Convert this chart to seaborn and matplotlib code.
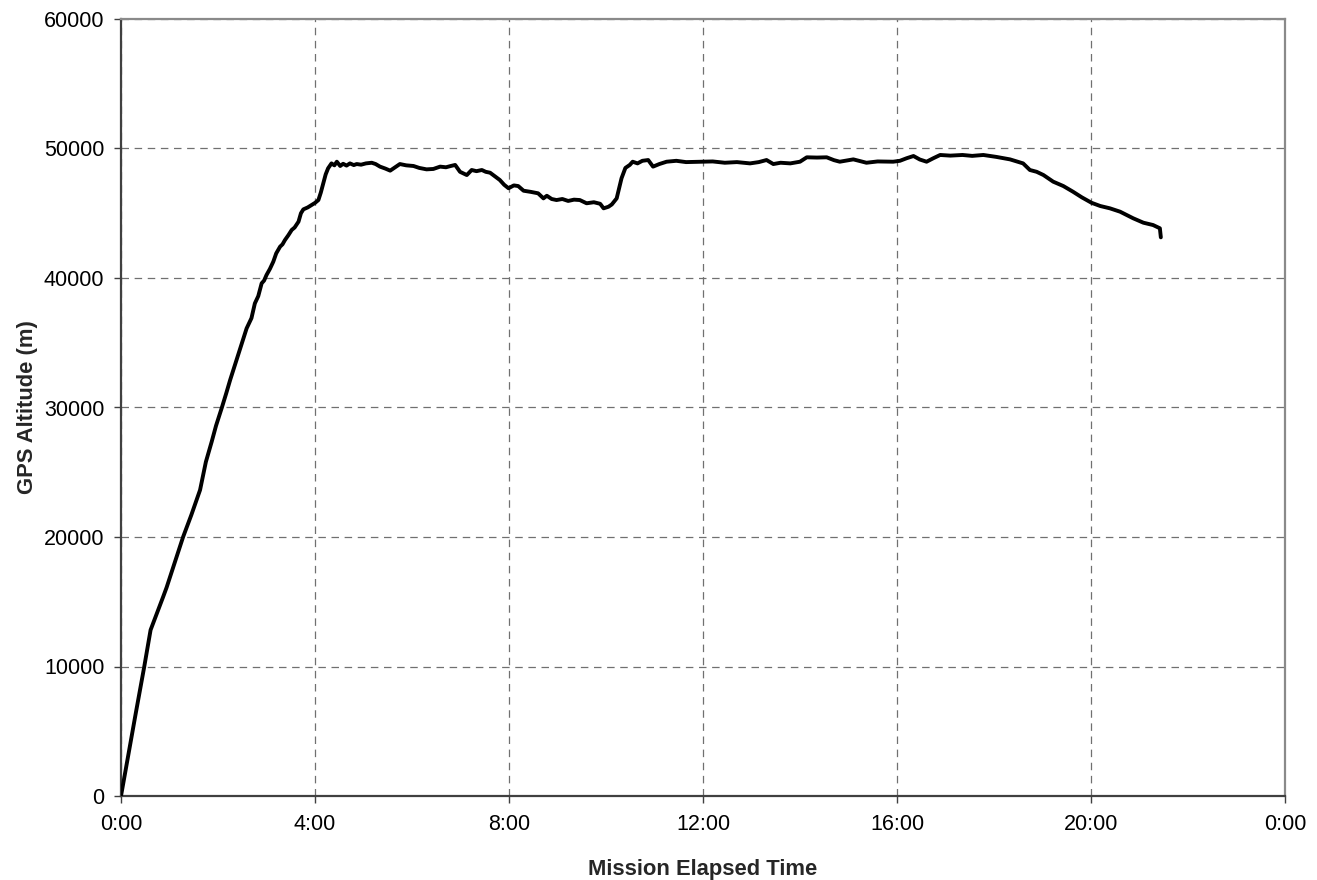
import matplotlib
matplotlib.use("Agg")
import matplotlib.pyplot as plt
import seaborn as sns
import pandas as pd

hours = [0.00, 0.30, 0.48, 0.61, 0.75, 0.87, 0.94, 1.08, 1.28, 1.45, 1.63, 1.75, 1.87, 1.96, 2.08, 2.17, 2.25,
         2.35, 2.45, 2.52, 2.59, 2.69, 2.76, 2.83, 2.90, 2.95, 3.00, 3.07, 3.14, 3.20, 3.28, 3.33, 3.38,
         3.45, 3.52, 3.58, 3.66, 3.71, 3.76, 3.85, 3.93, 4.00, 4.07, 4.12, 4.17, 4.22, 4.27, 4.34, 4.40,
         4.45, 4.52, 4.58, 4.65, 4.72, 4.80, 4.86, 4.95, 5.05, 5.17, 5.25, 5.34, 5.45, 5.55, 5.65, 5.75,
         5.88, 6.03, 6.15, 6.30, 6.44, 6.58, 6.70, 6.80, 6.89, 6.99, 7.13, 7.23, 7.33, 7.44, 7.52, 7.61,
         7.71, 7.81, 7.90, 7.99, 8.10, 8.19, 8.30, 8.45, 8.60, 8.71, 8.78, 8.88, 8.98, 9.10, 9.22, 9.34,
         9.46, 9.60, 9.75, 9.88, 9.95, 10.05, 10.12, 10.22, 10.32, 10.40, 10.49, 10.55, 10.65, 10.75,
         10.87, 10.97, 11.10, 11.25, 11.45, 11.65, 11.94, 12.20, 12.45, 12.70, 12.97, 13.15, 13.31,
         13.45, 13.60, 13.80, 14.00, 14.14, 14.35, 14.55, 14.70, 14.82, 15.10, 15.37, 15.60, 15.92,
         16.06, 16.20, 16.34, 16.47, 16.61, 16.75, 16.89, 17.10, 17.35, 17.55, 17.78, 18.05, 18.33,
         18.60, 18.74, 18.88, 19.02, 19.22, 19.43, 19.63, 19.81, 20.01, 20.19, 20.39, 20.60, 20.87,
         21.08, 21.28, 21.42, 21.44]

altitude = [0, 6300, 10000, 12820, 14200, 15390, 16100, 17710, 20000, 21700, 23630, 25800, 27360, 28600,
            30000, 31100, 32120, 33300, 34500, 35300, 36110, 36900, 38040, 38600, 39590, 39800, 40230,
            40700, 41260, 41900, 42420, 42600, 42930, 43300, 43710, 43900, 44350, 45000, 45300, 45450,
            45640, 45800, 46020, 46600, 47310, 48000, 48470, 48850, 48700, 48980, 48650, 48820, 48680,
            48850, 48720, 48800, 48750, 48850, 48900, 48800, 48600, 48450, 48290, 48550, 48800, 48700,
            48650, 48500, 48390, 48420, 48600, 48550, 48650, 48730, 48200, 47950, 48340, 48250, 48340,
            48200, 48130, 47850, 47570, 47200, 46930, 47150, 47100, 46740, 46650, 46540, 46150, 46350,
            46100, 46020, 46100, 45950, 46050, 46020, 45770, 45850, 45730, 45380, 45500, 45680, 46150,
            47700, 48500, 48730, 48980, 48850, 49050, 49110, 48600, 48800, 48980, 49050, 48950, 48980,
            49000, 48900, 48950, 48850, 48950, 49110, 48800, 48900, 48850, 48980, 49320, 49300, 49320,
            49100, 48980, 49160, 48900, 49000, 48980, 49050, 49250, 49420, 49150, 48980, 49250, 49500,
            49450, 49500, 49430, 49500, 49350, 49160, 48850, 48340, 48200, 47950, 47440, 47100, 46660,
            46230, 45810, 45560, 45380, 45120, 44610, 44270, 44090, 43840, 43140]

x_ticks = [0, 4, 8, 12, 16, 20, 24]
x_tick_labels = ["0:00", "4:00", "8:00", "12:00", "16:00", "20:00", "0:00"]
y_ticks = [0, 10000, 20000, 30000, 40000, 50000, 60000]

sns.set_style("white")
plt.rcParams["font.family"] = ["Liberation Sans", "DejaVu Sans"]

df = pd.DataFrame({"hours": hours, "altitude": altitude})

fig = plt.figure(figsize=(13.17, 8.80), dpi=100)
ax = fig.add_axes([121 / 1317, 1 - 796 / 880, (1285 - 121) / 1317, (796 - 19) / 880])

sns.lineplot(data=df, x="hours", y="altitude", ax=ax, sort=False, estimator=None,
             color="black", linewidth=2.8, zorder=3)

ax.set_xlim(0, 24)
ax.set_ylim(0, 60000)
ax.set_xticks(x_ticks)
ax.set_xticklabels(x_tick_labels)
ax.set_yticks(y_ticks)
ax.set_yticklabels([str(v) for v in y_ticks])

ax.grid(True, color="#707070", linestyle=(0, (6, 4.5)), linewidth=0.9)
ax.set_axisbelow(True)

for side in ["left", "bottom"]:
    ax.spines[side].set_color("#404040")
    ax.spines[side].set_linewidth(1.6)
for side in ["top", "right"]:
    ax.spines[side].set_color("#8a8a8a")
    ax.spines[side].set_linewidth(1.6)

ax.tick_params(axis="both", which="major", direction="out", length=5, width=1.0,
               color="#404040", labelsize=15.5, labelcolor="black")
ax.tick_params(axis="y", pad=7)
ax.tick_params(axis="x", pad=8)
ax.tick_params(bottom=True, left=True)

ax.set_xlabel("Mission Elapsed Time", fontsize=15.8, fontweight="bold", labelpad=17)
ax.set_ylabel("GPS Altitude (m)", fontsize=15.8, fontweight="bold", labelpad=4)

fig.savefig("out.png", dpi=100)
